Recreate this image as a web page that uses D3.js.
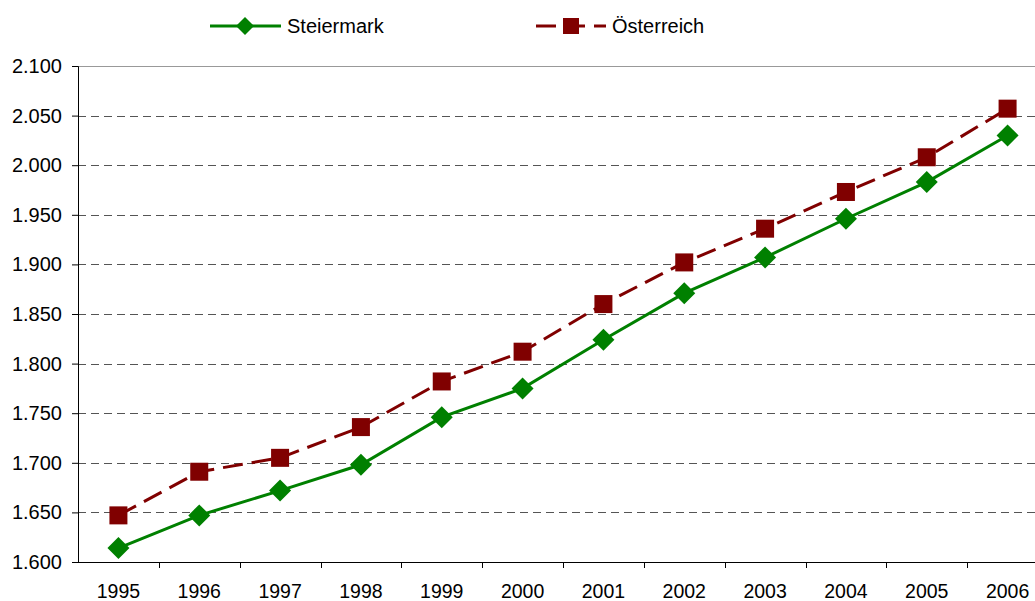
<!DOCTYPE html>
<html>
<head>
<meta charset="utf-8">
<script src="https://cdn.jsdelivr.net/npm/d3@7"></script>
<style>
  body { margin: 0; background: #fff; }
  svg text { font-family: "Liberation Sans", Arial, sans-serif; fill: #000; }
</style>
</head>
<body>
<div class="chart"></div>
<script>
var years = ["1995","1996","1997","1998","1999","2000","2001","2002","2003","2004","2005","2006"];
var steiermark = [1.614, 1.647, 1.672, 1.698, 1.746, 1.775, 1.824, 1.871, 1.907, 1.946, 1.983, 2.030];
var oesterreich = [1.647, 1.691, 1.705, 1.736, 1.782, 1.812, 1.860, 1.902, 1.936, 1.973, 2.008, 2.057];
var yTicks = [1.6, 1.65, 1.7, 1.75, 1.8, 1.85, 1.9, 1.95, 2.0, 2.05, 2.1];

var margin = {top: 66, right: -13, bottom: 39, left: 78},
    width = 1035 - margin.left - margin.right,
    height = 601 - margin.top - margin.bottom;

var svg = d3.select(".chart")
    .append("svg")
    .attr("width", 1035)
    .attr("height", 601);

var g = svg.append("g")
    .attr("transform", "translate(" + margin.left + "," + margin.top + ")");

var x = d3.scaleBand()
    .domain(years)
    .range([0, width]);

var y = d3.scaleLinear()
    .domain([1.6, 2.1])
    .range([height, 0]);

// grid lines
g.append("g")
    .selectAll("line")
    .data(yTicks.slice(1, -1))
    .enter().append("line")
    .attr("x1", 0)
    .attr("x2", width)
    .attr("y1", function(d) { return Math.round(y(d)) + 0.5; })
    .attr("y2", function(d) { return Math.round(y(d)) + 0.5; })
    .attr("stroke", "#555")
    .attr("stroke-dasharray", "8,5");

// top border
g.append("line")
    .attr("x1", 0).attr("x2", width)
    .attr("y1", 0.5).attr("y2", 0.5)
    .attr("stroke", "#999");

// y axis
var yAxis = g.append("g")
    .call(d3.axisLeft(y).tickValues(yTicks).tickSize(6).tickPadding(10)
        .tickFormat(d3.format(".3f")));
yAxis.select(".domain").attr("stroke", "#000");
yAxis.selectAll(".tick line").attr("stroke", "#000");
yAxis.selectAll("text").style("font-size", "20px").attr("fill", "#000");

// x axis
var xAxis = g.append("g")
    .attr("transform", "translate(0," + height + ")")
    .call(d3.axisBottom(x).tickSize(0).tickPadding(22));
xAxis.select(".domain").attr("stroke", "#000").attr("d", "M0,0.5H" + width);
xAxis.selectAll("text").style("font-size", "19.5px").attr("fill", "#000");
g.append("g")
    .selectAll("line")
    .data(years.slice(1))
    .enter().append("line")
    .attr("x1", function(d) { return Math.round(x(d)) + 0.5; })
    .attr("x2", function(d) { return Math.round(x(d)) + 0.5; })
    .attr("y1", height)
    .attr("y2", height + 6)
    .attr("stroke", "#000");

var line = d3.line()
    .x(function(d, i) { return x(years[i]) + x.bandwidth() / 2; })
    .y(function(d) { return y(d); });

// Österreich
g.append("path")
    .datum(oesterreich)
    .attr("d", line)
    .attr("fill", "none")
    .attr("stroke", "#800000")
    .attr("stroke-width", 3)
    .attr("stroke-dasharray", "20,9");
g.append("g")
    .selectAll("rect")
    .data(oesterreich)
    .enter().append("rect")
    .attr("x", function(d, i) { return x(years[i]) + x.bandwidth() / 2 - 9; })
    .attr("y", function(d) { return y(d) - 9; })
    .attr("width", 18)
    .attr("height", 18)
    .attr("fill", "#800000");

// Steiermark
g.append("path")
    .datum(steiermark)
    .attr("d", line)
    .attr("fill", "none")
    .attr("stroke", "#008000")
    .attr("stroke-width", 3);
var diamond = "M0,-11L11,0L0,11L-11,0Z";
g.append("g")
    .selectAll("path")
    .data(steiermark)
    .enter().append("path")
    .attr("transform", function(d, i) {
        return "translate(" + (x(years[i]) + x.bandwidth() / 2) + "," + y(d) + ")";
    })
    .attr("d", diamond)
    .attr("fill", "#008000");

// legend
var legend = svg.append("g");
legend.append("line")
    .attr("x1", 210).attr("x2", 281).attr("y1", 26).attr("y2", 26)
    .attr("stroke", "#008000").attr("stroke-width", 3);
legend.append("path")
    .attr("transform", "translate(245,26)")
    .attr("d", "M0,-9L9,0L0,9L-9,0Z")
    .attr("fill", "#008000");
legend.append("text")
    .attr("x", 287).attr("y", 33)
    .style("font-size", "20px")
    .text("Steiermark");

legend.append("line")
    .attr("x1", 536).attr("x2", 606).attr("y1", 26).attr("y2", 26)
    .attr("stroke", "#800000").attr("stroke-width", 3)
    .attr("stroke-dasharray", "20,9");
legend.append("rect")
    .attr("x", 563).attr("y", 18).attr("width", 16).attr("height", 16)
    .attr("fill", "#800000");
legend.append("text")
    .attr("x", 612).attr("y", 33)
    .style("font-size", "20px")
    .text("Österreich");
</script>
</body>
</html>
